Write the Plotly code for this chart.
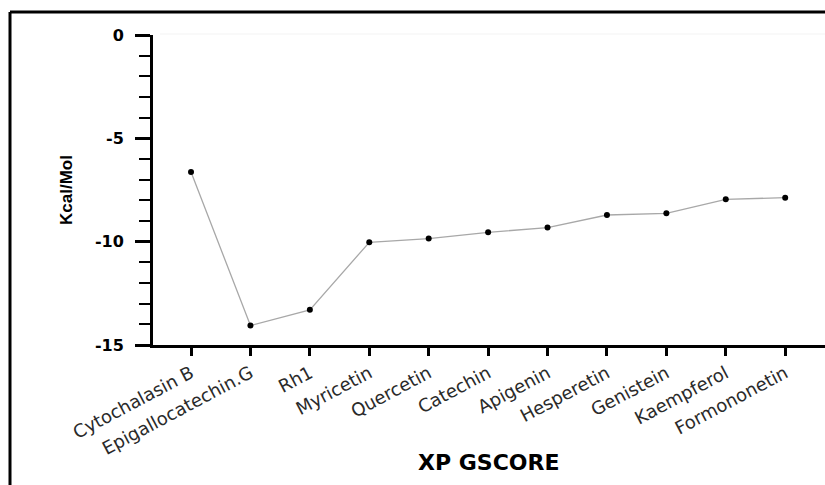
import plotly.graph_objects as go

compounds = ["Cytochalasin B", "Epigallocatechin.G", "Rh1", "Myricetin", "Quercetin",
             "Catechin", "Apigenin", "Hesperetin", "Genistein", "Kaempferol", "Formononetin"]
scores = [-6.63, -14.06, -13.30, -10.03, -9.85, -9.55, -9.32, -8.71, -8.63, -7.95, -7.87]
y_tick_vals = [0, -5, -10, -15]
y_tick_text = ["0", "-5", "-10", "-15"]

fig = go.Figure()
fig.add_trace(go.Scatter(
    x=compounds, y=scores, mode="lines+markers",
    line=dict(color="#a8a8a8", width=1.3),
    marker=dict(color="black", size=6),
    showlegend=False,
))

W, H = 825, 485
L, R, T, B = 153, 0, 35, 140
pw, ph = W - L - R, H - T - B

def px_x(x):
    return (x - L) / pw

def px_y(y):
    return (H - B - y) / ph

fig.update_layout(
    width=W, height=H,
    margin=dict(l=L, r=R, t=T, b=B),
    paper_bgcolor="white", plot_bgcolor="white",
    font=dict(family="Liberation Sans, Arial", color="black"),
    xaxis=dict(
        type="category", range=[-0.64, 10.67],
        showline=True, linecolor="black", linewidth=3,
        ticks="outside", ticklen=8, tickwidth=3, tickcolor="black",
        tickangle=-28, tickfont=dict(family="DejaVu Sans", size=18, color="#2a2a2a"),
        showgrid=False, zeroline=False,
    ),
    yaxis=dict(
        range=[-15, 0], tickmode="array", tickvals=y_tick_vals, ticktext=y_tick_text,
        showline=True, linecolor="black", linewidth=3,
        ticks="outside", ticklen=15, tickwidth=2.5, tickcolor="black",
        ticklabelstandoff=8,
        tickfont=dict(family="DejaVu Sans", size=16, color="black", weight="bold"),
        minor=dict(dtick=1, ticks="outside", ticklen=11, tickwidth=2, tickcolor="black"),
        showgrid=False, zeroline=False,
    ),
    annotations=[
        dict(text="<b>XP GSCORE</b>", xref="paper", yref="paper",
             x=px_x(488), y=px_y(462), xanchor="center", yanchor="middle",
             showarrow=False, font=dict(family="DejaVu Sans", size=22, color="black")),
        dict(text="<b>Kcal/Mol</b>", xref="paper", yref="paper", textangle=-90,
             x=px_x(66), y=px_y(190), xanchor="center", yanchor="middle",
             showarrow=False, font=dict(family="Liberation Sans", size=17, color="black")),
    ],
    shapes=[
        dict(type="line", xref="paper", yref="paper",
             x0=px_x(10), x1=1.01, y0=px_y(12), y1=px_y(12),
             line=dict(color="black", width=3)),
        dict(type="line", xref="paper", yref="paper",
             x0=px_x(10), x1=px_x(10), y0=px_y(12), y1=px_y(490),
             line=dict(color="black", width=3)),
        dict(type="line", xref="paper", yref="paper",
             x0=px_x(160), x1=1.0, y0=px_y(34), y1=px_y(34),
             line=dict(color="#f3f3f3", width=1)),
    ],
)

fig.write_html("out.html", config={"displayModeBar": False},
               post_script="document.body.style.margin='0px';document.body.style.overflow='hidden';")
